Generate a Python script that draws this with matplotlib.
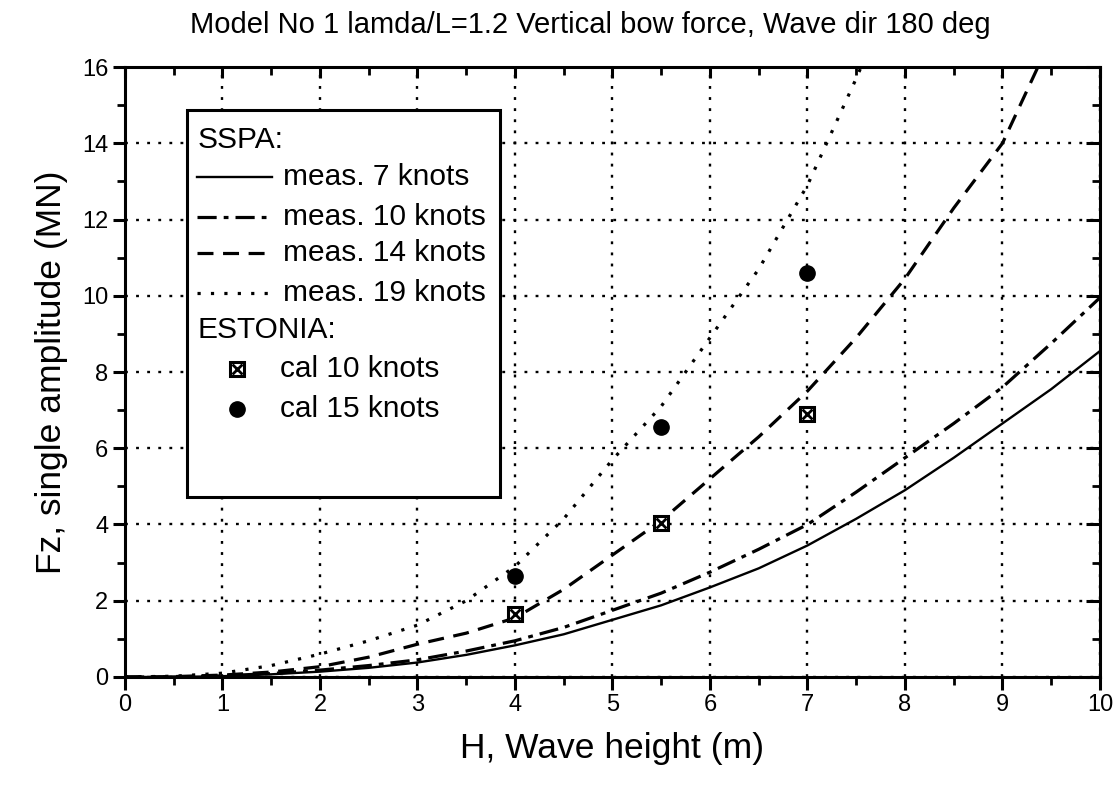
import matplotlib
matplotlib.use("Agg")
import matplotlib.pyplot as plt
from matplotlib.lines import Line2D
from matplotlib.patches import Rectangle
from matplotlib.ticker import MultipleLocator

plt.rcParams['font.family'] = ['Liberation Sans', 'DejaVu Sans']

# measured curves (SSPA model tests)
h_7 = [0, 0.5, 1, 1.5, 2, 2.5, 3, 3.5, 4, 4.5, 5, 5.5, 6, 6.5, 7, 7.5, 8, 8.5, 9, 9.5, 10]
fz_7 = [0, 0.0, 0.02, 0.07, 0.14, 0.24, 0.38, 0.58, 0.83, 1.12, 1.5, 1.88, 2.35, 2.85, 3.45,
        4.15, 4.9, 5.75, 6.65, 7.55, 8.55]

h_10 = [0, 0.5, 1, 1.5, 2, 2.5, 3, 3.5, 4, 4.5, 5, 5.5, 6, 6.5, 7, 7.5, 8, 8.5, 9, 9.5, 10]
fz_10 = [0, 0.0, 0.03, 0.09, 0.18, 0.3, 0.45, 0.68, 0.95, 1.3, 1.75, 2.2, 2.75, 3.35, 4.0,
         4.85, 5.75, 6.65, 7.6, 8.75, 9.95]

h_14 = [0, 0.5, 1, 1.5, 2, 2.5, 3, 3.5, 4, 4.5, 5, 5.5, 6, 6.5, 7, 7.5, 8, 8.5, 9, 9.4]
fz_14 = [0, 0.01, 0.05, 0.13, 0.27, 0.52, 0.86, 1.15, 1.55, 2.3, 3.2, 4.1, 5.2, 6.3, 7.5,
         8.9, 10.45, 12.3, 14.0, 16.2]

h_19 = [0, 0.5, 1, 1.5, 2, 2.5, 3, 3.5, 4, 4.5, 5, 5.5, 6, 6.5, 7, 7.5, 7.6]
fz_19 = [0, 0.02, 0.1, 0.3, 0.6, 0.95, 1.36, 2.0, 2.9, 4.15, 5.7, 7.1, 8.9, 10.7, 12.9,
         15.7, 16.3]

# calculated points (ESTONIA)
h_cal = [4, 5.5, 7]
fz_cal10 = [1.64, 4.05, 6.9]
fz_cal15 = [2.65, 6.55, 10.6]

fig = plt.figure(figsize=(11.2, 7.86), dpi=100)
ax = fig.add_axes([0.1116, 0.1387, 0.8705, 0.776])

lw = 1.7
ax.plot(h_7, fz_7, color='black', lw=lw, ls='-', zorder=3)
ax.plot(h_10, fz_10, color='black', lw=lw + 0.6, ls=(0, (6, 2.2, 1.5, 2.2)), zorder=3)
ax.plot(h_14, fz_14, color='black', lw=lw + 0.6, ls=(0, (5, 3)), zorder=3)
ax.plot(h_19, fz_19, color='black', lw=lw + 0.6, ls=(0, (1, 3.2)), zorder=3)

ax.plot(h_cal, fz_cal10, ls='none', marker='s', ms=10, mfc='white', mec='black', mew=2.2, zorder=4)
ax.plot(h_cal, fz_cal10, ls='none', marker='x', ms=7, mec='black', mew=2, zorder=5)
ax.plot(h_cal, fz_cal15, ls='none', marker='o', ms=11, mfc='black', mec='black', zorder=4)

ax.set_xlim(0, 10)
ax.set_ylim(0, 16)
ax.xaxis.set_major_locator(MultipleLocator(1))
ax.xaxis.set_minor_locator(MultipleLocator(0.5))
ax.yaxis.set_major_locator(MultipleLocator(2))
ax.yaxis.set_minor_locator(MultipleLocator(1))
ax.grid(True, which='major', color='black', ls=(0, (1.2, 3.5)), lw=1.7)

for s in ax.spines.values():
    s.set_linewidth(2.2)
ax.tick_params(which='major', direction='out', length=9, width=2.2, labelsize=17, pad=3)
ax.tick_params(which='minor', direction='out', length=6, width=2)

# inward ticks on the top and right frame
top = ax.secondary_xaxis('top')
top.xaxis.set_major_locator(MultipleLocator(1))
top.xaxis.set_minor_locator(MultipleLocator(0.5))
top.tick_params(which='major', direction='in', length=8, width=2.2, labeltop=False)
top.tick_params(which='minor', direction='in', length=6, width=2)
right = ax.secondary_yaxis('right')
right.yaxis.set_major_locator(MultipleLocator(2))
right.yaxis.set_minor_locator(MultipleLocator(1))
right.tick_params(which='major', direction='in', length=10, width=2.2, labelright=False)
right.tick_params(which='minor', direction='in', length=6, width=2)

ax.set_xlabel('H, Wave height (m)', fontsize=25.5, labelpad=12)
ax.set_ylabel('Fz, single amplitude (MN)', fontsize=25.5, labelpad=10)
fig.text(0.527, 0.968, 'Model No 1 lamda/L=1.2 Vertical bow force, Wave dir 180 deg',
         fontsize=21, ha='center', va='center')

# legend box drawn by hand so the group headers sit flush left
tr = ax.transAxes
ax.add_patch(Rectangle((0.0636, 0.295), 0.321, 0.6345, transform=tr, facecolor='white',
                       edgecolor='black', lw=2.2, zorder=6))
fs = 21.5
ax.text(0.074, 0.880, 'SSPA:', transform=tr, fontsize=fs, va='center', zorder=7)
entries = [
    ('meas. 7 knots', '-', lw),
    ('meas. 10 knots', (0, (6, 2.2, 1.5, 2.2)), lw + 0.6),
    ('meas. 14 knots', (0, (5, 3)), lw + 0.6),
    ('meas. 19 knots', (0, (1, 3.2)), lw + 0.6),
]
rows = [0.8197, 0.754, 0.695, 0.6295]
for (label, style, w), yy in zip(entries, rows):
    ax.add_line(Line2D([0.0738, 0.1508], [yy, yy], transform=tr, color='black', ls=style,
                       lw=w, zorder=7))
    ax.text(0.162, yy, label, transform=tr, fontsize=fs, va='center', zorder=7)

ax.text(0.074, 0.569, 'ESTONIA:', transform=tr, fontsize=fs, va='center', zorder=7)
ax.add_line(Line2D([0.115], [0.505], transform=tr, ls='none', marker='s', ms=10, mfc='white',
                   mec='black', mew=2.2, zorder=7))
ax.add_line(Line2D([0.115], [0.505], transform=tr, ls='none', marker='x', ms=7, mec='black',
                   mew=2, zorder=8))
ax.text(0.159, 0.505, 'cal 10 knots', transform=tr, fontsize=fs, va='center', zorder=7)
ax.add_line(Line2D([0.115], [0.439], transform=tr, ls='none', marker='o', ms=11, mfc='black',
                   mec='black', zorder=7))
ax.text(0.159, 0.439, 'cal 15 knots', transform=tr, fontsize=fs, va='center', zorder=7)

fig.savefig('out.png', dpi=100)
